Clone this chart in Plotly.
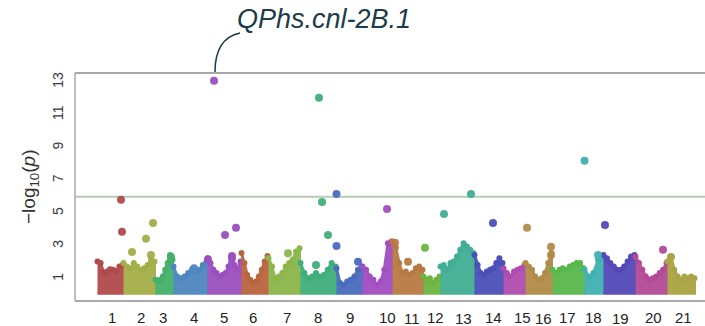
import numpy as np
import plotly.graph_objects as go

# ---- data -------------------------------------------------------------
chrom_labels = [str(i) for i in range(1, 22)]
chrom_lengths = [26, 32, 18, 34, 34, 27, 32, 36, 26, 30, 31, 17, 34, 29, 22, 27, 32, 19, 32, 32, 28]
# position of each chromosome label inside its own chromosome
label_pos = [15, 18, 8, 21, 17, 12, 19, 18, 14, 25, 20, 12, 23, 19, 19, 18, 15, 9, 17, 18, 16]

chrom_colors = [
    "#b04a4c", "#a4ae48", "#44b06a", "#4f86c0", "#9b50bf", "#b9663f", "#8cb64a",
    "#3fae7a", "#4a6cbf", "#a24ec0", "#b87a42", "#6cb640", "#40ae94", "#4a50b8",
    "#b04caf", "#b08c48", "#58b84c", "#40b0b0", "#5448b8", "#b44a96", "#aaa444",
]

# upper edge of the dense marker band along each chromosome (-log10 p)
band_tops = [
    [2.06, 1.96, 1.35, 1.45, 1.59, 1.55, 1.45, 1.75, 1.85],
    [1.96, 1.75, 1.65, 1.96, 1.75, 1.55, 1.65, 1.85, 2.16, 2.06],
    [0.94, 0.84, 0.94, 1.14, 1.55, 1.96, 2.46, 2.16],
    [1.75, 1.14, 1.04, 1.14, 1.35, 1.55, 1.45, 1.55, 1.85, 2.06],
    [2.26, 1.96, 1.55, 1.35, 1.14, 1.24, 1.35, 1.75, 2.40, 1.85, 1.55, 2.06],
    [2.57, 1.96, 1.24, 0.94, 0.74, 0.84, 1.14, 1.55, 2.06, 2.40],
    [2.26, 1.75, 0.94, 1.14, 1.35, 1.75, 1.96, 2.16, 2.67, 2.87],
    [1.96, 1.35, 1.04, 1.14, 1.35, 1.14, 1.24, 1.55, 1.96, 1.75],
    [1.65, 0.74, 0.63, 0.84, 0.94, 1.14, 1.55, 1.75],
    [1.75, 1.55, 1.14, 0.94, 0.63, 0.84, 1.55, 3.17, 3.28],
    [3.28, 2.90, 1.96, 1.35, 1.45, 1.24, 1.35, 1.65, 1.75, 1.55],
    [1.14, 0.94, 1.04, 0.74, 0.94, 1.14],
    [1.75, 1.85, 1.55, 1.96, 2.06, 2.36, 2.77, 3.17, 2.97, 2.77, 2.57],
    [2.46, 1.85, 1.35, 1.24, 1.45, 1.55, 1.65, 1.96, 2.26, 1.96],
    [1.65, 1.35, 1.14, 1.45, 1.55, 1.65, 1.85],
    [1.96, 1.75, 1.55, 1.14, 0.94, 1.04, 1.35, 1.96, 2.57],
    [1.55, 1.35, 1.55, 1.65, 1.55, 1.75, 1.85, 1.96, 1.96, 1.65],
    [1.55, 1.14, 1.35, 2.16, 2.36],
    [2.46, 2.26, 1.96, 1.75, 1.55, 1.55, 1.75, 2.06, 2.36, 2.46],
    [2.36, 1.96, 1.55, 1.14, 0.94, 1.04, 1.14, 1.35, 1.55, 1.96],
    [2.06, 2.36, 1.55, 1.14, 0.94, 1.14, 1.04, 1.14, 1.04],
]
band_floor = 0.12

# individual markers standing above the band
hit_chrom = [1, 1, 2, 2, 2, 2, 3, 4, 5, 5, 5, 5, 5, 5, 7, 8, 8, 8, 8,
             9, 9, 9, 10, 11, 11, 12, 13, 13, 14, 16, 16, 16, 18, 18, 19, 20, 21]
hit_pos = [24, 25, 30, 23, 9, 28, 16, 21, 7, 18, 29, 25, 25, 1, 20, 19, 22, 28, 16,
           0.5, 0.5, 22, 25, 3, 16, 2, 31, 4, 19, 2, 26, 26, 0.5, 14, 2, 28, 4]
hit_logp = [5.82, 3.87, 4.41, 3.44, 2.64, 2.46, 2.34, 1.65, 13.07, 3.68, 4.11, 2.40, 2.25, 2.20,
            2.56, 12.04, 5.69, 3.68, 1.85, 6.18, 3.00, 2.05, 5.26, 3.20, 2.05, 2.89,
            6.18, 4.96, 4.41, 4.11, 2.95, 2.46, 8.20, 2.46, 4.29, 2.77, 2.34]

threshold = 6.0
qtl_name = "QPhs.cnl-2B.1"
qtl_index = 8  # entry in the hit lists that carries the QTL label

# ---- layout helpers -----------------------------------------------------
starts = np.concatenate([[0], np.cumsum(chrom_lengths)[:-1]])
x_range = [-22, 608]
y_range = [-0.35, 13.55]

fig = go.Figure()

for i, tops in enumerate(band_tops):
    s, L, col = starts[i], chrom_lengths[i], chrom_colors[i]
    xs = s + np.linspace(0.5, L - 0.5, len(tops))
    poly_x = list(xs) + [xs[-1], xs[0]]
    poly_y = list(tops) + [band_floor, band_floor]
    fig.add_trace(go.Scatter(
        x=poly_x, y=poly_y, mode="lines", fill="toself",
        fillcolor=col, line=dict(color=col, width=3),
        opacity=0.95, hoverinfo="skip", showlegend=False,
    ))
    fig.add_trace(go.Scatter(
        x=xs, y=tops, mode="markers",
        marker=dict(color=col, size=6, line=dict(width=0)),
        hoverinfo="skip", showlegend=False,
    ))

hx = [starts[c - 1] + p for c, p in zip(hit_chrom, hit_pos)]
hcol = [chrom_colors[c - 1] for c in hit_chrom]
fig.add_trace(go.Scatter(
    x=hx, y=hit_logp, mode="markers",
    marker=dict(color=hcol, size=8, opacity=0.95, line=dict(width=0)),
    showlegend=False,
))

# chromosome labels below the axis
label_shift = {11: -1, 13: -1, 16: -1, 19: -1}
for i, lab in enumerate(chrom_labels):
    fig.add_annotation(
        x=starts[i] + label_pos[i], y=0, xref="x", yref="paper",
        text=lab, showarrow=False, yanchor="middle",
        yshift=-16 + label_shift.get(i + 1, 0),
        font=dict(family="Liberation Sans, Arial", size=15, color="#222222"),
    )

# frame: left, top and bottom rules
frame = dict(color="#a8a8a8")
fig.add_shape(type="line", xref="paper", yref="paper", x0=0, x1=0, y0=0, y1=1,
              line=dict(width=1.5, **frame))
fig.add_shape(type="line", xref="paper", yref="paper", x0=0, x1=1, y0=1, y1=1,
              line=dict(width=2, **frame))
fig.add_shape(type="line", xref="paper", yref="paper", x0=0, x1=1, y0=0, y1=0,
              line=dict(width=2, **frame))

# significance threshold
fig.add_shape(type="line", xref="paper", yref="y", x0=0, x1=1, y0=threshold, y1=threshold,
              line=dict(color="#b6ccb6", width=2), layer="below")

# QTL callout: curved leader from above the peak up to the name
W, H = 705, 326
ml, mr, mt, mb = 75, 0, 73, 25
pw, ph = W - ml - mr, H - mt - mb


def px_to_paper(px, py):
    return (px - ml) / pw, (H - mb - py) / ph


peak_x = hx[qtl_index]
peak_px = ml + (peak_x - x_range[0]) / (x_range[1] - x_range[0]) * pw
p0 = px_to_paper(peak_px + 1, 72)
c1 = px_to_paper(peak_px + 1, 52)
c2 = px_to_paper(peak_px + 7, 37)
p1 = px_to_paper(peak_px + 26, 33)
fig.add_shape(
    type="path", xref="paper", yref="paper",
    path=f"M {p0[0]},{p0[1]} C {c1[0]},{c1[1]} {c2[0]},{c2[1]} {p1[0]},{p1[1]}",
    line=dict(color="#1d3b4b", width=1.5),
)
tx, ty = px_to_paper(324, 19)
fig.add_annotation(
    x=tx, y=ty, xref="paper", yref="paper", showarrow=False,
    text=f"<i>{qtl_name}</i>", xanchor="center", yanchor="middle",
    font=dict(family="Liberation Sans, Arial", size=27, color="#1d3b4b"),
)

# y-axis title
ax_, ay_ = px_to_paper(30, 187)
fig.add_annotation(
    x=ax_, y=ay_, xref="paper", yref="paper", showarrow=False, textangle=-90,
    text="\u2212log<sub>10</sub>(<i>p</i>)", xanchor="center", yanchor="middle",
    font=dict(family="Liberation Sans, Arial", size=19, color="#333333"),
)

fig.update_xaxes(range=x_range, showgrid=False, zeroline=False, showticklabels=False,
                 showline=False, ticks="")
fig.update_yaxes(range=y_range, showgrid=False, zeroline=False, showline=False,
                 tickvals=[1, 3, 5, 7, 9, 11, 13], tickangle=-90, ticks="",
                 ticklabelstandoff=8,
                 tickfont=dict(family="Liberation Sans, Arial", size=14, color="#3a3a3a"))

fig.update_layout(
    width=W, height=H,
    margin=dict(l=ml, r=mr, t=mt, b=mb, pad=0),
    paper_bgcolor="white", plot_bgcolor="white",
    showlegend=False,
)

fig.write_html("out.html")
